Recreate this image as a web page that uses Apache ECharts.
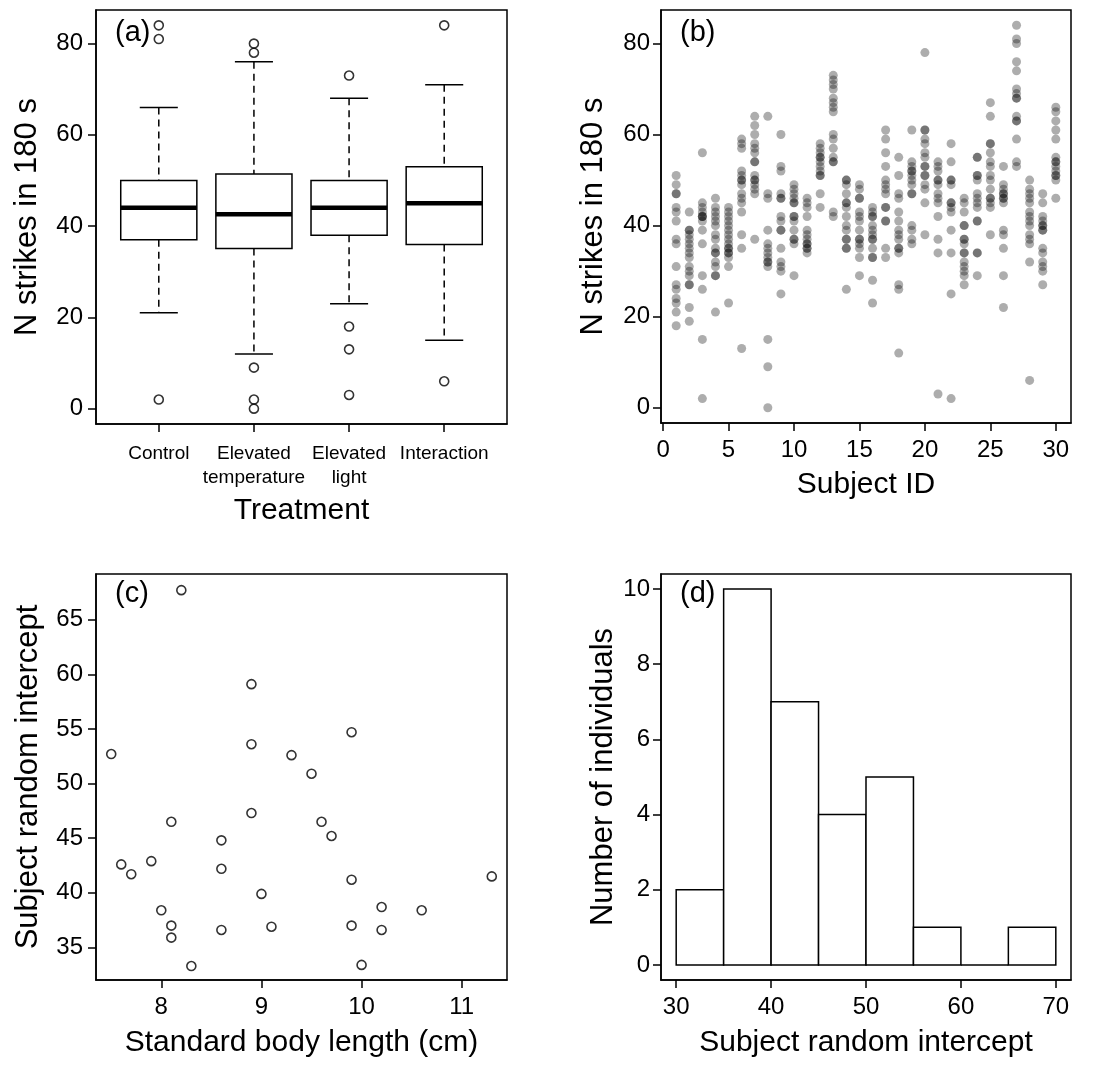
<!DOCTYPE html>
<html>
<head>
<meta charset="utf-8">
<script src="https://cdn.jsdelivr.net/npm/echarts@6/dist/echarts.min.js"></script>
<style>
html,body{margin:0;padding:0;background:#fff;}
#chart{width:1110px;height:1089px;}
</style>
</head>
<body>
<div id="chart"></div>
<script>
// ---------- Panel (a): boxplot by treatment ----------
const treatments = ['Control', 'Elevated\ntemperature', 'Elevated\nlight', 'Interaction'];
const lowerWhisker = [21, 12, 23, 15];
const lowerQuartile = [37, 35.1, 38, 36];
const medians = [44, 42.6, 44, 45];
const upperQuartile = [50, 51.4, 50, 53];
const upperWhisker = [66, 76, 68, 71];
const outliers = [
  [84, 81, 2],
  [80, 78, 9, 2, 0],
  [73, 18, 13, 3],
  [84, 6]
];

// ---------- Panel (b): strikes per subject ----------
const strikesBySubject = [
  [51,49,47,47,44,43,41,37,36,31,27,26,24,23,21,18],
  [43,39,39,38,37,36,35,34,33,31,30,29,27,27,22,19],
  [56,45,44,43,42,42,42,41,39,36,29,26,15,2],
  [46,44,43,42,41,40,38,37,35,34,34,32,31,29,29,21],
  [44,43,42,41,40,39,38,37,36,35,35,34,34,33,31,23],
  [59,58,57,52,51,50,50,49,47,46,45,43,38,35,13],
  [64,62,60,58,57,56,54,54,51,50,50,49,48,47,37],
  [64,47,46,39,36,35,34,33,32,32,31,15,9,0],
  [60,53,52,47,46,46,42,41,39,39,35,32,31,30,25],
  [49,48,47,46,45,45,42,42,41,39,37,37,36,29],
  [46,45,44,42,39,38,37,36,36,35,35,34],
  [58,57,56,55,55,54,53,52,51,51,47,44],
  [73,72,71,70,68,67,66,65,60,59,57,55,54,54,43,42],
  [50,50,49,47,45,45,44,42,40,39,37,37,35,35,26],
  [49,48,46,46,43,42,41,39,37,37,36,35,33,29],
  [44,43,42,42,40,39,38,37,37,35,33,33,28,23],
  [61,59,56,53,50,49,48,47,44,44,41,41,35,33],
  [55,51,47,46,43,41,39,38,37,35,35,34,27,26,12],
  [61,54,53,52,52,51,50,49,47,47,40,39,37,36],
  [78,61,61,59,58,56,55,53,53,51,51,49,48,45,38],
  [54,53,52,50,50,49,47,46,45,42,37,34,3],
  [58,54,50,50,49,45,45,44,43,39,34,25,2],
  [46,45,43,40,40,37,37,36,34,34,32,31,30,29,27],
  [55,55,51,51,50,47,46,45,44,41,41,34,34,29],
  [67,64,58,58,56,54,53,51,50,48,46,46,45,44,38],
  [53,49,48,47,47,46,46,45,39,38,35,29,22],
  [84,81,80,76,74,70,69,68,68,64,63,63,59,54,53],
  [50,48,47,46,45,43,42,41,40,38,37,36,32,6],
  [47,45,42,41,40,40,39,39,35,34,32,31,30,27],
  [66,65,63,61,59,55,54,54,53,52,51,51,50,46]
];

// ---------- Panel (c): random intercept vs body length ----------
const bodyLength = [7.5, 8.2, 7.6, 7.7, 7.9, 8.0, 8.1, 8.1, 8.1, 8.3, 8.6, 8.6, 8.6, 8.9, 8.9, 8.9, 9.0, 9.1, 9.3, 9.5, 9.6, 9.7, 9.9, 9.9, 9.9, 10.0, 10.2, 10.2, 10.6, 11.3];
const randomIntercept = [52.7, 67.7, 42.6, 41.7, 42.9, 38.4, 46.5, 37.0, 35.9, 33.3, 44.8, 42.2, 36.6, 59.1, 53.6, 47.3, 39.9, 36.9, 52.6, 50.9, 46.5, 45.2, 54.7, 41.2, 37.0, 33.4, 38.7, 36.6, 38.4, 41.5];

// ---------- Panel (d): histogram ----------
const binStarts = [30, 35, 40, 45, 50, 55, 60, 65];
const binWidth = 5;
const binCounts = [2, 10, 7, 4, 5, 1, 0, 1];

// ---------- tick values ----------
const strikeTicks = [0, 20, 40, 60, 80];
const subjectTicks = [0, 5, 10, 15, 20, 25, 30];
const lengthTicks = [8, 9, 10, 11];
const interceptTicks = [35, 40, 45, 50, 55, 60, 65];
const histXTicks = [30, 40, 50, 60, 70];
const histYTicks = [0, 2, 4, 6, 8, 10];

// ---------- build ----------
const FONT = '"Liberation Sans", Arial, sans-serif';
const boxData = treatments.map((t, i) => [i + 1, lowerWhisker[i], lowerQuartile[i], medians[i], upperQuartile[i], upperWhisker[i]]);
const outlierData = [];
outliers.forEach((arr, i) => arr.forEach(v => outlierData.push([i + 1, v])));
const strikeData = [];
strikesBySubject.forEach((arr, i) => arr.forEach(v => strikeData.push([i + 1, v])));
const scatterC = bodyLength.map((x, i) => [x, randomIntercept[i]]);
const histData = binStarts.map((s, i) => [s, s + binWidth, binCounts[i]]);

function axis(gridIndex, min, max, ticks, labelMargin, name, nameGap, nameSize, extra) {
  const a = {
    type: 'value', gridIndex, min, max,
    axisLine: { show: true, onZero: false, lineStyle: { color: '#000', width: 1.5 } },
    axisTick: { show: true, length: 8, inside: false, customValues: ticks, lineStyle: { color: '#000', width: 1.5 } },
    axisLabel: { customValues: ticks, margin: labelMargin, color: '#000', fontSize: 24, fontFamily: FONT },
    splitLine: { show: false },
    name, nameLocation: 'middle', nameGap,
    nameTextStyle: { color: '#000', fontSize: nameSize, fontFamily: FONT }
  };
  return Object.assign(a, extra || {});
}

const openCircle = { color: 'rgba(0,0,0,0)', borderColor: '#000', borderWidth: 1.6 };
const panelText = { fontSize: 29, fontWeight: 'normal', color: '#000', fontFamily: FONT };

const option = {
  backgroundColor: '#fff',
  animation: false,
  title: [
    { text: '(a)', left: 115, top: 18, padding: 0, textStyle: panelText },
    { text: '(b)', left: 680, top: 18, padding: 0, textStyle: panelText },
    { text: '(c)', left: 115, top: 579, padding: 0, textStyle: panelText },
    { text: '(d)', left: 680, top: 579, padding: 0, textStyle: panelText }
  ],
  grid: [
    { left: 96, top: 10, width: 411, height: 414, show: true, borderColor: '#000', borderWidth: 1.5, backgroundColor: '#fff' },
    { left: 661, top: 10, width: 410, height: 413, show: true, borderColor: '#000', borderWidth: 1.5, backgroundColor: '#fff' },
    { left: 96, top: 574, width: 411, height: 406, show: true, borderColor: '#000', borderWidth: 1.5, backgroundColor: '#fff' },
    { left: 661, top: 574, width: 410, height: 406, show: true, borderColor: '#000', borderWidth: 1.5, backgroundColor: '#fff' }
  ],
  xAxis: [
    axis(0, 0.34, 4.66, [1, 2, 3, 4], 18, 'Treatment', 72, 30, {
      axisLabel: { customValues: [1, 2, 3, 4], margin: 18, color: '#000', fontSize: 19, lineHeight: 24, fontFamily: FONT,
        formatter: v => treatments[Math.round(v) - 1] }
    }),
    axis(1, -0.16, 31.16, subjectTicks, 15, 'Subject ID', 47, 30),
    axis(2, 7.348, 11.452, lengthTicks, 15, 'Standard body length (cm)', 48, 30),
    axis(3, 28.4, 71.6, histXTicks, 15, 'Subject random intercept', 48, 30)
  ],
  yAxis: [
    axis(0, -3.36, 87.36, strikeTicks, 13, 'N strikes in 180 s', 53, 31),
    axis(1, -3.36, 87.36, strikeTicks, 11, 'N strikes in 180 s', 52, 31),
    axis(2, 32.02, 69.18, interceptTicks, 13, 'Subject random intercept', 52, 31),
    axis(3, -0.4, 10.4, histYTicks, 11, 'Number of individuals', 40, 31)
  ],
  series: [
    {
      type: 'custom', xAxisIndex: 0, yAxisIndex: 0, data: boxData,
      renderItem: function (params, api) {
        const x = api.value(0);
        const pLo = api.coord([x, api.value(1)]);
        const pQ1 = api.coord([x, api.value(2)]);
        const pMed = api.coord([x, api.value(3)]);
        const pQ3 = api.coord([x, api.value(4)]);
        const pHi = api.coord([x, api.value(5)]);
        const half = api.size([0.4, 0])[0];
        const cap = api.size([0.2, 0])[0];
        const ls = { stroke: '#000', lineWidth: 1.5 };
        const dash = { stroke: '#000', lineWidth: 1.5, lineDash: [7, 5] };
        return {
          type: 'group',
          children: [
            { type: 'line', shape: { x1: pHi[0], y1: pHi[1], x2: pQ3[0], y2: pQ3[1] }, style: dash },
            { type: 'line', shape: { x1: pQ1[0], y1: pQ1[1], x2: pLo[0], y2: pLo[1] }, style: dash },
            { type: 'line', shape: { x1: pHi[0] - cap, y1: pHi[1], x2: pHi[0] + cap, y2: pHi[1] }, style: ls },
            { type: 'line', shape: { x1: pLo[0] - cap, y1: pLo[1], x2: pLo[0] + cap, y2: pLo[1] }, style: ls },
            { type: 'rect', shape: { x: pQ3[0] - half, y: pQ3[1], width: 2 * half, height: pQ1[1] - pQ3[1] }, style: { fill: '#fff', stroke: '#000', lineWidth: 1.5 } },
            { type: 'line', shape: { x1: pMed[0] - half, y1: pMed[1], x2: pMed[0] + half, y2: pMed[1] }, style: { stroke: '#000', lineWidth: 4.5 } }
          ]
        };
      }
    },
    {
      type: 'scatter', xAxisIndex: 0, yAxisIndex: 0, data: outlierData,
      symbol: 'circle', symbolSize: 9, itemStyle: openCircle, z: 3
    },
    {
      type: 'scatter', xAxisIndex: 1, yAxisIndex: 1, data: strikeData,
      symbol: 'circle', symbolSize: 9, itemStyle: { color: 'rgba(0,0,0,0.4)' }
    },
    {
      type: 'scatter', xAxisIndex: 2, yAxisIndex: 2, data: scatterC,
      symbol: 'circle', symbolSize: 9, itemStyle: openCircle
    },
    {
      type: 'custom', xAxisIndex: 3, yAxisIndex: 3, data: histData,
      renderItem: function (params, api) {
        const p0 = api.coord([api.value(0), 0]);
        const p1 = api.coord([api.value(1), api.value(2)]);
        if (api.value(2) === 0) {
          return { type: 'line', shape: { x1: p0[0], y1: p0[1], x2: p1[0], y2: p0[1] }, style: { stroke: '#000', lineWidth: 1.5 } };
        }
        return {
          type: 'rect',
          shape: { x: p0[0], y: p1[1], width: p1[0] - p0[0], height: p0[1] - p1[1] },
          style: { fill: '#fff', stroke: '#000', lineWidth: 1.5 }
        };
      }
    }
  ]
};

const chart = echarts.init(document.getElementById('chart'), null, { renderer: 'canvas' });
chart.setOption(option);
</script>
</body>
</html>
